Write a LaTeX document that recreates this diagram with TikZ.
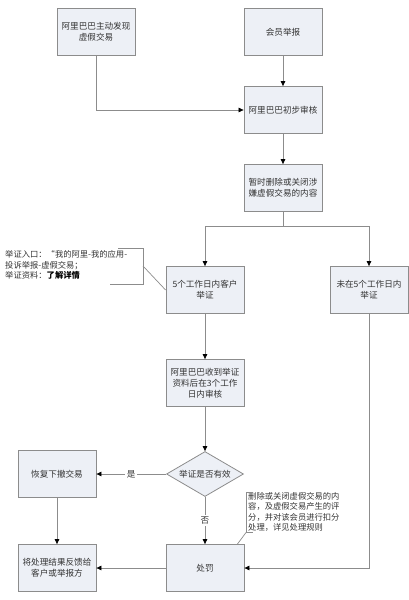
\documentclass[tikz,border=0pt]{standalone}
\usepackage{fontspec}
\setmainfont{Noto Sans CJK SC}
\usetikzlibrary{arrows.meta,positioning,calc,shapes.geometric}

\definecolor{boxfill}{HTML}{EDF0F6}
\definecolor{boxline}{HTML}{8C8C8C}
\definecolor{txtgray}{HTML}{333333}

\begin{document}
\begin{tikzpicture}[x=1pt,y=-1pt,%
        box/.style={draw=boxline, fill=boxfill, line width=.8pt, minimum width=78pt, minimum height=47pt,
          inner sep=1pt, align=center, text=txtgray, font=\fontsize{8.6}{10.8}\selectfont},
        decision/.style={diamond, aspect=1.7, draw=boxline, fill=boxfill, line width=.8pt, minimum width=77pt,
          minimum height=45pt, inner sep=0pt, text=txtgray, font=\fontsize{8.6}{10.8}\selectfont},
        note/.style={inner sep=0pt, align=left, text=txtgray, font=\fontsize{8.3}{10.4}\selectfont},
        lbl/.style={fill=white, inner sep=1.5pt, text=txtgray, font=\fontsize{8.6}{10.8}\selectfont},
        line/.style={draw=boxline, line width=.7pt},
        arr/.style={line, -{Triangle[length=5pt,width=4.5pt,color=black]}}]

        \useasboundingbox (0,0) rectangle (409,600);

        %% top row
        \node [box] (find) at (96,32) {阿里巴巴主动发现\\虚假交易};
        \node [box] (report) at (283,32) {会员举报};
        \node [box] (audit) at ($(report)+(0,78)$) {阿里巴巴初步审核};
        \node [box] (hide) at ($(audit)+(0,78)$) {暂时删除或关闭涉\\嫌虚假交易的内容};
        \coordinate (fork) at ($(hide)+(0,38)$);

        %% two branches
        \node [box] (proof) at (205,290) {5个工作日内客户\\举证};
        \node [box] (noproof) at (369,290) {未在5个工作日内\\举证};
        \node [box] (review) at ($(proof)+(0,93)$) {阿里巴巴收到举证\\资料后在3个工作\\日内审核};
        \node [decision] (valid) at ($(review)+(0,91)$) {举证是否有效};
        \node [box] (restore) at (57,474) {恢复下撤交易};
        \node [box] (punish) at ($(valid)+(0,94)$) {处罚};
        \node [box] (feedback) at ($(restore)+(0,94)$) {将处理结果反馈给\\客户或举报方};

        %% connectors
        \foreach \a/\b in {report/audit, audit/hide, proof/review, review/valid, restore/feedback, punish/feedback} {
          \draw [arr] (\a) -- (\b);
        }
        \draw [arr] (find) |- (audit);
        \draw [line] (hide) -- (fork);
        \draw [arr] (fork) -| (proof);
        \draw [arr] (fork) -| (noproof);
        \draw [arr] (valid) -- node [lbl] {是} (restore);
        \draw [arr] (valid) -- node [lbl] {否} (punish);
        \draw [arr] (noproof) |- (punish);

        %% annotations
        \node [note, anchor=west] (entry) at (5,265) {举证入口：“我的阿里-我的应用-\\投诉举报-虚假交易；\\举证资料：\textbf{\color{black}了解详情}};
        \coordinate (entrybrk) at (143,266);
        \draw [line] ($(entrybrk)+(-25,-18)$) -| ($(entrybrk)+(0,18)$) -- ++(-33,0);
        \draw [line] (entrybrk) -- (proof.west);

        \node [note, anchor=north west] (rule) at (248,492) {删除或关闭虚假交易的内\\容，及虚假交易产生的评\\分，并对该会员进行扣分\\处理，详见处理规则};
        \coordinate (rulebrk) at ($(rule.south west)+(-2,1)$);
        \draw [line] ($(rule.north west)+(5,0)$) -| (rulebrk) -- ++(7,0);
        \draw [line] (rulebrk) -- ($(punish.north east)+(-7,0)$);

      \end{tikzpicture}
\end{document}
